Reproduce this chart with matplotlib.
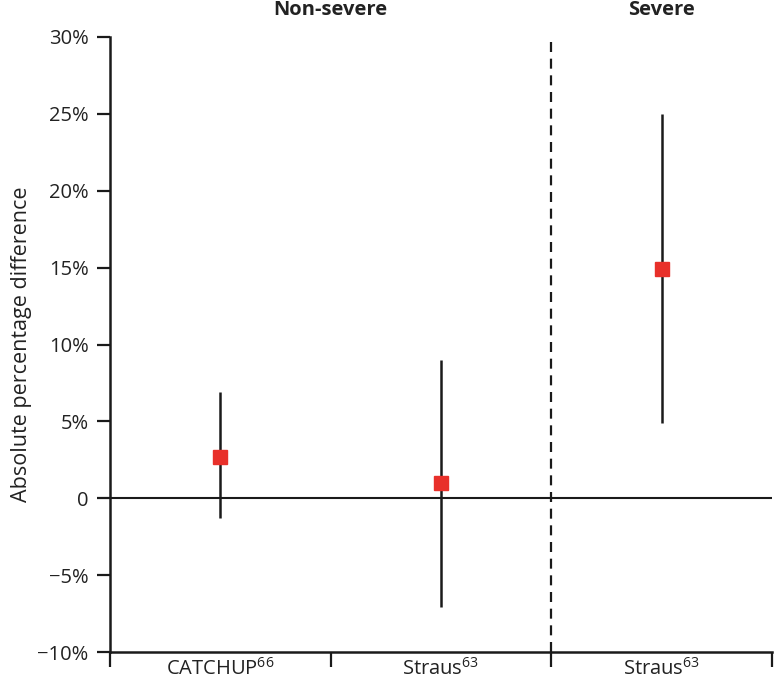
import matplotlib
matplotlib.use("Agg")
from matplotlib import pyplot as plt

# data (absolute percentage difference, %)
studies = ['CATCHUP$^{66}$', 'Straus$^{63}$', 'Straus$^{63}$']
estimate = [2.7, 1.0, 14.9]
lower = [-1.3, -7.1, 4.9]
upper = [6.9, 9.0, 25.0]
groups = ['Non-severe', 'Severe']
yticks = [-10, -5, 0, 5, 10, 15, 20, 25, 30]
ytick_labels = ['\u221210%', '\u22125%', '0', '5%', '10%', '15%', '20%', '25%', '30%']

plt.rcParams['font.family'] = ['Open Sans', 'DejaVu Sans']
plt.rcParams['mathtext.fontset'] = 'custom'
plt.rcParams['mathtext.rm'] = 'Open Sans'
plt.rcParams['mathtext.default'] = 'regular'

fig = plt.figure(figsize=(7.74, 6.85), dpi=100)
ax = fig.add_axes([110 / 774, 1 - 652 / 685, 662 / 774, 615 / 685])

xpos = [i + 0.5 for i in range(len(studies))]
ax.vlines(xpos, lower, upper, color='#1a1a1a', lw=1.8, zorder=2)
ax.plot(xpos, estimate, 's', color='#e8302a', ms=10, zorder=3)

ax.axhline(0, color='#1a1a1a', lw=1.5, zorder=1)
ax.axvline(2, color='#1a1a1a', lw=1.6, ls=(0, (4.5, 3)), zorder=1)

ax.set_xlim(0, 3)
ax.set_ylim(-10, 30)
ax.set_yticks(yticks)
ax.set_yticklabels(ytick_labels, fontsize=14.5, color='#222222')
ax.set_xticks([0, 1, 2, 3])
ax.set_xticklabels([])
ax.set_xticks(xpos, minor=True)
ax.set_xticklabels(studies, minor=True, fontsize=14.5, color='#222222')
ax.tick_params(axis='x', which='minor', length=0, pad=4)
ax.tick_params(axis='x', which='major', length=11, width=1.6, direction='out', color='#1a1a1a')
ax.tick_params(axis='y', length=9.5, width=1.6, color='#1a1a1a', pad=6)

for side in ['top', 'right']:
    ax.spines[side].set_visible(False)
for side in ['left', 'bottom']:
    ax.spines[side].set_linewidth(1.8)
    ax.spines[side].set_color('#1a1a1a')

ax.set_ylabel('Absolute percentage difference', fontsize=15.5, color='#222222', labelpad=4)

ax.text(1.0, 1.028, groups[0], transform=ax.get_xaxis_transform(), ha='center',
        va='bottom', fontsize=14.5, fontweight='bold', color='#222222')
ax.text(2.5, 1.028, groups[1], transform=ax.get_xaxis_transform(), ha='center',
        va='bottom', fontsize=14.5, fontweight='bold', color='#222222')

fig.savefig('out.png', dpi=100)
